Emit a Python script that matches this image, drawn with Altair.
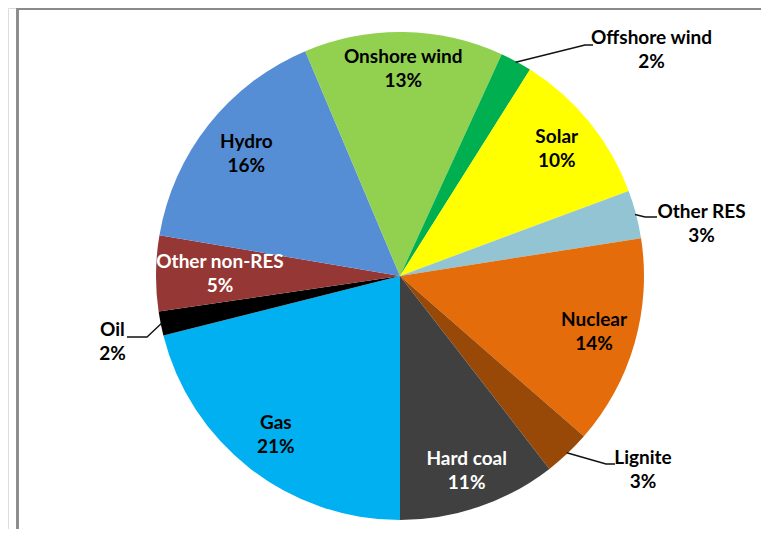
import math
import pandas as pd
import altair as alt

# ---- data ----
names = ["Gas", "Oil", "Other non-RES", "Hydro", "Onshore wind", "Offshore wind",
         "Solar", "Other RES", "Nuclear", "Lignite", "Hard coal"]
values = [21.1, 1.6, 5.0, 16.0, 13.2, 2.1, 10.4, 3.2, 13.9, 3.1, 10.5]
pct_labels = ["21%", "2%", "5%", "16%", "13%", "2%", "10%", "3%", "14%", "3%", "11%"]
colors = ["#00B0F0", "#000000", "#953735", "#558ED5", "#92D050", "#00B050",
          "#FFFF00", "#92C4D4", "#E46C0A", "#984807", "#404040"]

# ---- layout / style ----
W, H = 753, 521
CX, CY = 392, 268          # pie centre in plot coords
R = 244                    # pie radius
START_DEG = 180            # first slice starts at 6 o'clock
INSIDE_R = 202
INSIDE_R_OVERRIDE = {"Other non-RES": 180, "Onshore wind": 207, "Hydro": 196,
                     "Hard coal": 206}
WHITE_TEXT = {"Other non-RES", "Hard coal"}
OUTSIDE = {  # label placement (angle deg, radius px) for outside labels
    "Offshore wind": (48.1, 338),
    "Other RES": (80.2, 306),
    "Lignite": (128.6, 311),
    "Oil": (257.1, 295),
}
LEADERS = {  # elbow and end points (page px) of leader lines
    "Offshore wind": [(585, 45), (593, 45)],
    "Other RES": [(645, 217), (657, 217)],
    "Lignite": [(606, 464), (615, 464)],
    "Oil": [(147, 337), (127, 337)],
}
FONT = "Lato"
LINE_H = 24

total = sum(values)
rows, label_rows, line_rows = [], [], []
cum = 0.0
for i, (n, v, p, c) in enumerate(zip(names, values, pct_labels, colors)):
    mid = START_DEG + 360.0 * (cum + v / 2) / total
    cum += v
    rows.append({"idx": i, "name": n, "value": v, "color": c})
    if n in OUTSIDE:
        a, r = OUTSIDE[n]
    else:
        a, r = mid, INSIDE_R_OVERRIDE.get(n, INSIDE_R)
    ar = math.radians(a)
    label_rows.append({
        "name": n,
        "label": f"{n}\n{p}",
        "lx": CX + r * math.sin(ar),
        "ly": CY - r * math.cos(ar),
        "tcolor": "#FFFFFF" if n in WHITE_TEXT else "#000000",
    })
    if n in LEADERS:
        mr = math.radians(mid)
        pts = [(CX + (R - 1) * math.sin(mr), CY - (R - 1) * math.cos(mr))]
        pts += [(x - 8, y - 8) for x, y in LEADERS[n]]
        for k, (x, y) in enumerate(pts):
            line_rows.append({"name": n, "k": k, "px": x, "py": y})

slices = pd.DataFrame(rows)
labels = pd.DataFrame(label_rows)
leaders = pd.DataFrame(line_rows)

pie = alt.Chart(slices).mark_arc(outerRadius=R).encode(
    theta=alt.Theta("value:Q", stack=True,
                    scale=alt.Scale(range=[math.pi, 3 * math.pi])),
    color=alt.Color("name:N", scale=alt.Scale(domain=names, range=colors), legend=None),
    order=alt.Order("idx:Q"),
    x=alt.value(CX),
    y=alt.value(CY),
)

text = alt.Chart(labels).mark_text(
    lineBreak="\n", font=FONT, fontSize=19, fontWeight="bold",
    align="center", baseline="middle", lineHeight=LINE_H, dy=-LINE_H / 2,
).encode(
    x=alt.X("lx:Q", scale=None, axis=None),
    y=alt.Y("ly:Q", scale=None, axis=None),
    text="label:N",
    color=alt.Color("tcolor:N", scale=None),
)

lines = alt.Chart(leaders).mark_line(color="#111111", strokeWidth=1.4).encode(
    x=alt.X("px:Q", scale=None, axis=None),
    y=alt.Y("py:Q", scale=None, axis=None),
    detail="name:N",
    order="k:Q",
)

frame_left = alt.Chart(slices).mark_rule(color="#8A8A8A", strokeWidth=1.5).encode(
    x=alt.value(9.5), y=alt.value(0), y2=alt.value(H))
frame_top = alt.Chart(slices).mark_rule(color="#8A8A8A", strokeWidth=1.5).encode(
    x=alt.value(9.5), x2=alt.value(W), y=alt.value(0.75))

chart = alt.layer(frame_left, frame_top, pie, lines, text).properties(
    width=W, height=H, padding=0,
    autosize=alt.AutoSizeParams(type="none"),
).configure_view(stroke=None).configure(background="#FFFFFF")

chart.save("out.html", embed_options={"renderer": "svg", "actions": False})
